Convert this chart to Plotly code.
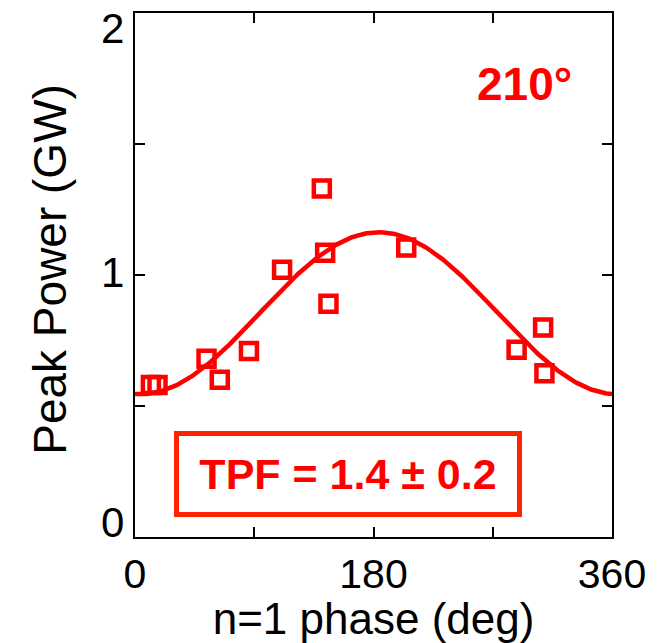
import numpy as np
import plotly.graph_objects as go

# Measured peak power vs. n=1 coil phase
phase_deg = [12, 17, 54, 64, 86, 111, 141, 143.5, 146, 204.7, 288, 308, 309]
peak_power_gw = [0.58, 0.58, 0.68, 0.60, 0.71, 1.02, 1.33, 1.085, 0.89, 1.105, 0.715, 0.80, 0.625]

# Cosine fit parameters: P(phi) = offset + amplitude * cos(phi - phi_peak)
fit_offset = 0.854
fit_amplitude = 0.309
fit_peak_phase = 184.0

x_ticks = [0, 90, 180, 270, 360]
x_tick_text = ["0", "", "180", "", "360"]
y_ticks = [0, 0.5, 1, 1.5, 2]
y_label_vals = [0, 1, 2]
y_label_text = ["0", "1", "2"]
y_label_shift = [15, 3, -15]

RED = "#FF0000"
BOX_RED = "#FF2200"
FONT = "Liberation Sans, Arial, Helvetica, sans-serif"

phi = np.linspace(0, 360, 361)
fit_curve = fit_offset + fit_amplitude * np.cos(np.radians(phi - fit_peak_phase))

fig = go.Figure()
fig.add_trace(go.Scatter(
    x=phi, y=fit_curve, mode="lines",
    line=dict(color=RED, width=4.5), hoverinfo="skip", showlegend=False,
))
fig.add_trace(go.Scatter(
    x=phase_deg, y=peak_power_gw, mode="markers",
    marker=dict(symbol="square-open", size=16, color=RED, line=dict(color=RED, width=4.5)),
    showlegend=False,
))

axis_common = dict(
    showline=True, linecolor="black", linewidth=2, mirror="ticks",
    ticks="inside", ticklen=10, tickwidth=2, tickcolor="black",
    showgrid=False, zeroline=False,
)

fig.update_xaxes(
    range=[0, 360], tickvals=x_ticks, ticktext=x_tick_text,
    tickfont=dict(family=FONT, size=41, color="black"),
    title=dict(text="n=1 phase (deg)", font=dict(family=FONT, size=44, color="black"), standoff=4),
    **axis_common,
)
fig.update_yaxes(
    range=[0, 2], tickvals=y_ticks, showticklabels=False,
    **axis_common,
)

annotations = []
for v, t, s in zip(y_label_vals, y_label_text, y_label_shift):
    annotations.append(dict(
        x=0, xref="paper", y=v, yref="y", text=t, showarrow=False,
        xanchor="right", yanchor="middle", xshift=-9, yshift=s,
        font=dict(family=FONT, size=42, color="black"),
    ))
annotations.append(dict(
    x=0, xref="paper", y=1.02, yref="y", text="Peak Power (GW)", textangle=-90,
    showarrow=False, xanchor="center", yanchor="middle", xshift=-85,
    font=dict(family=FONT, size=46, color="black"),
))
annotations.append(dict(
    x=294, y=1.729, xref="x", yref="y", text="<b>210°</b>", showarrow=False,
    xanchor="center", yanchor="middle",
    font=dict(family=FONT, size=46, color=RED),
))
annotations.append(dict(
    x=161, y=0.241, xref="x", yref="y", text="<b>TPF = 1.4 ± 0.2</b>", showarrow=False,
    xanchor="center", yanchor="middle", width=338, height=76,
    bordercolor=BOX_RED, borderwidth=5, borderpad=0, bgcolor="white",
    font=dict(family=FONT, size=43, color=RED),
))

fig.update_layout(
    width=662, height=643,
    margin=dict(l=135, r=50, t=11, b=101),
    plot_bgcolor="white", paper_bgcolor="white",
    annotations=annotations,
)

fig.write_html("out.html")
